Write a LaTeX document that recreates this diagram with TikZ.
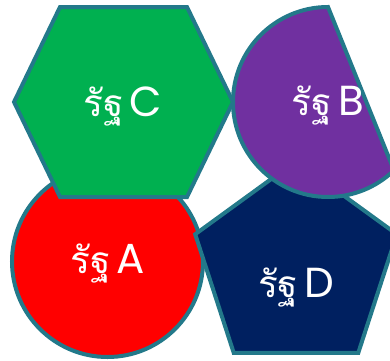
\documentclass[tikz,border=0pt]{standalone}
\usepackage{fontspec}
\usetikzlibrary{calc}
\newfontfamily\thaifont[Script=Thai]{Loma}
\newfontfamily\latfont{Poppins}
\definecolor{edge}{RGB}{35,121,138}
\definecolor{cred}{RGB}{255,0,0}
\definecolor{cgreen}{RGB}{0,176,80}
\definecolor{cpurple}{RGB}{112,48,160}
\definecolor{cnavy}{RGB}{0,32,96}
\tikzset{
  shapebox/.style={draw=edge, line width=4pt, line join=miter},
  lbl/.style={anchor=base, text=white, inner sep=0pt},
}
\newcommand{\statelabel}[1]{{\fontsize{37}{44}\selectfont\thaifont รัฐ}\hspace{0.6em}{\fontsize{42}{46}\selectfont\latfont #1}}
\begin{document}
\begin{tikzpicture}[x=1pt,y=1pt]
\useasboundingbox (0,0) rectangle (390,360);
\clip (0,0) rectangle (390,360);
% red circle A
\filldraw[fill=cred, shapebox] (107.5,98.5) circle[radius=95.5];
% navy pentagon D
\coordinate (dc) at (296,93);
\filldraw[fill=cnavy, shapebox] ($(dc)+(90:106)$) -- ($(dc)+(162:106)$) -- ($(dc)+(234:106)$) -- ($(dc)+(306:106)$) -- ($(dc)+(18:106)$) -- cycle;
% green hexagon C
\filldraw[fill=cgreen, shapebox] (60,353) -- (187,353) -- (233,258) -- (187,163) -- (60,163) -- (14,258) -- cycle;
% purple chord B
\filldraw[fill=cpurple, shapebox] (328,353) arc[start angle=90, end angle=314, radius=95] -- cycle;
% labels
\node[lbl] (la) at (108,87) {\statelabel{A}};
\node[lbl] (lc) at (123,244) {\statelabel{C}};
\node[lbl] (lb) at (328,245) {\statelabel{B}};
\node[lbl] (ld) at (296,62.5) {\statelabel{D}};
\end{tikzpicture}
\end{document}
